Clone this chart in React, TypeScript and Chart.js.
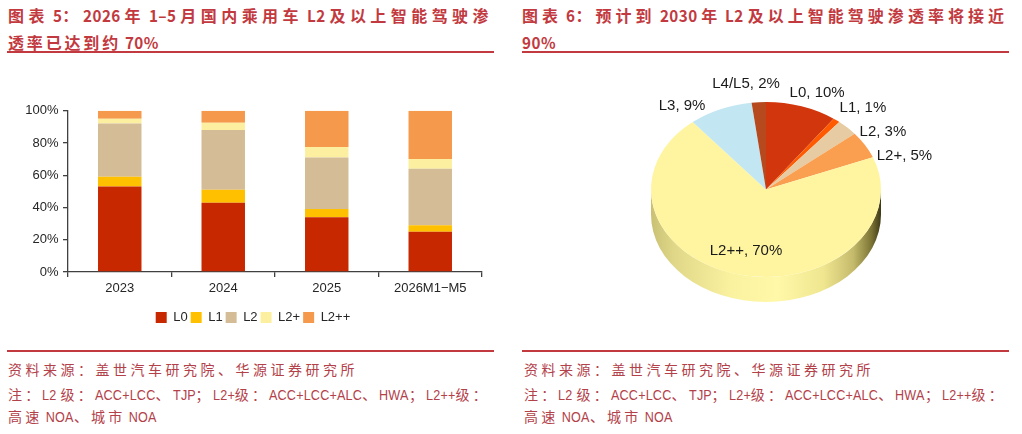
import React, { useEffect, useLayoutEffect, useRef } from 'react';
import { Chart, registerables } from 'chart.js';

Chart.register(...registerables);

// ---------- data ----------
const categories = ['2023', '2024', '2025', '2026M1−M5'];
const seriesNames = ['L0', 'L1', 'L2', 'L2+', 'L2++'];
const L0 = [53, 43, 34, 25];
const L1 = [6, 8, 5, 4];
const L2 = [33, 37, 32, 35];
const L2p = [3, 4.5, 6.5, 6];
const L2pp = [5, 7.5, 22.5, 30];
const yMax = 100;
const yStep = 20;

const pieLabels = ['L0', 'L1', 'L2', 'L2+', 'L2++', 'L3', 'L4/L5'];
const pieValues = [10, 1, 3, 5, 70, 9, 2];

const title1 = ['图表 5：2026 年 1–5 月国内乘用车 L2 及以上智能驾驶渗', '透率已达到约 70%'];
const title2 = ['图表 6：预计到 2030 年 L2 及以上智能驾驶渗透率将接近', '90%'];
const footer = [
  '资料来源：盖世汽车研究院、华源证券研究所',
  '注：L2 级：ACC+LCC、TJP；L2+级：ACC+LCC+ALC、HWA；L2++级：',
  '高速 NOA、城市 NOA',
];

// ---------- styles ----------
const barColors = ['#C82800', '#FFC000', '#D4BC96', '#FCF0A0', '#F5994D'];
const pieColors = ['#D2360C', '#FF5A00', '#E6CBA3', '#FA9E50', '#FFF5A1', '#C3E6F3', '#B64A1E'];
const RED = '#C23A40';
const FOOT = '#B3414A';
const AXIS = '#404040';
const TXT = '#262626';
const SANS = '"Liberation Sans", Arial, sans-serif';
const CJK = '"Noto Sans CJK SC", "Noto Sans", sans-serif';

if (typeof document !== 'undefined') {
  document.body.style.margin = '0';
  document.body.style.background = '#fff';
}

function runs(text: string) {
  const parts = text.split(/([\x20-\x7E–]+)/).filter((p) => p.length > 0);
  return parts.map((p, i) =>
    /^[\x20-\x7E–]+$/.test(p) ? (
      <span key={i} data-latin="1" style={{ display: 'inline-block', whiteSpace: 'pre', transformOrigin: '0 50%' }}>
        {p}
      </span>
    ) : (
      <span key={i} data-cjk="1">
        {p}
      </span>
    )
  );
}

function FitLine(props: {
  text: string;
  width: number;
  left: number;
  top: number;
  style: React.CSSProperties;
  latinFont: string;
  latinScale: number;
  latinSpacing: number;
}) {
  const ref = useRef<HTMLDivElement>(null);
  useLayoutEffect(() => {
    const fit = () => {
      const el = ref.current;
      if (!el) return;
      const latin = Array.from(el.querySelectorAll('[data-latin]')) as HTMLElement[];
      const cjk = Array.from(el.querySelectorAll('[data-cjk]')) as HTMLElement[];
      cjk.forEach((s) => (s.style.letterSpacing = '0px'));
      latin.forEach((s) => {
        s.style.fontFamily = props.latinFont;
        s.style.letterSpacing = props.latinSpacing + 'px';
        s.style.transform = 'none';
        s.style.marginRight = '0px';
      });
      latin.forEach((s) => {
        const w = s.getBoundingClientRect().width;
        s.style.transform = `scaleX(${props.latinScale})`;
        s.style.marginRight = -(1 - props.latinScale) * w + 'px';
      });
      const natural = el.getBoundingClientRect().width;
      let n = 0;
      cjk.forEach((s) => (n += Array.from(s.textContent || '').length));
      if (n > 0) {
        const ls = (props.width - natural) / n;
        cjk.forEach((s) => (s.style.letterSpacing = ls + 'px'));
      }
    };
    fit();
    if ((document as any).fonts && (document as any).fonts.ready) {
      (document as any).fonts.ready.then(fit);
    }
  }, [props.text, props.width]);
  return (
    <div
      ref={ref}
      style={{
        position: 'absolute',
        left: props.left,
        top: props.top,
        whiteSpace: 'nowrap',
        display: 'inline-block',
        ...props.style,
      }}
    >
      {runs(props.text)}
    </div>
  );
}

function BarChart() {
  const ref = useRef<HTMLCanvasElement>(null);
  useEffect(() => {
    if (!ref.current) return;
    const series = [L0, L1, L2, L2p, L2pp];
    const chart = new Chart(ref.current, {
      type: 'bar',
      data: {
        labels: categories,
        datasets: series.map((d, i) => ({
          label: seriesNames[i],
          data: d,
          backgroundColor: barColors[i],
          borderWidth: 0,
          barPercentage: 0.42,
          categoryPercentage: 1,
        })),
      },
      options: {
        animation: false,
        responsive: false,
        layout: { padding: { top: 12.7, right: 23, left: 24, bottom: 0 } },
        scales: {
          x: {
            stacked: true,
            offset: true,
            grid: { display: true, drawOnChartArea: false, drawTicks: true, tickLength: 5, color: AXIS, lineWidth: 1.3, offset: true },
            border: { display: true, color: AXIS, width: 1.3 },
            ticks: { color: TXT, font: { family: SANS, size: 13 }, padding: 4, maxRotation: 0 },
            afterFit: (s: any) => {
              s.height = 36;
            },
          },
          y: {
            stacked: true,
            min: 0,
            max: yMax,
            grid: { display: true, drawOnChartArea: false, drawTicks: true, tickLength: 5, color: AXIS, lineWidth: 1.3 },
            border: { display: true, color: AXIS, width: 1.3 },
            ticks: {
              stepSize: yStep,
              color: TXT,
              font: { family: SANS, size: 13 },
              padding: 4.5,
              callback: (v: any) => v + '%',
            },
            afterFit: (s: any) => {
              s.width = 44;
            },
          },
        },
        plugins: {
          legend: {
            position: 'bottom',
            labels: {
              boxWidth: 11,
              boxHeight: 11,
              padding: 3,
              color: TXT,
              font: { family: SANS, size: 13 },
            },
          },
          tooltip: { enabled: false },
        },
      },
    });
    return () => chart.destroy();
  }, []);
  return (
    <canvas
      ref={ref}
      width={505}
      height={236}
      style={{ position: 'absolute', left: 0, top: 98, width: 505, height: 236 }}
    />
  );
}

const pie3d = {
  id: 'pie3d',
  beforeDatasetsDraw(chart: any, _args: any, opts: any) {
    const meta = chart.getDatasetMeta(0);
    const arc = meta.data[0];
    if (!arc) return;
    const { x, y, outerRadius: R } = arc;
    const k = opts.tilt;
    const d = opts.depth;
    const ctx = chart.ctx as CanvasRenderingContext2D;
    ctx.save();
    const g = ctx.createLinearGradient(x - R, 0, x + R, 0);
    g.addColorStop(0, '#c9c074');
    g.addColorStop(0.1, '#e0d888');
    g.addColorStop(0.35, '#faf29f');
    g.addColorStop(0.55, '#fff8a8');
    g.addColorStop(0.75, '#f0e690');
    g.addColorStop(0.88, '#c4ba6b');
    g.addColorStop(0.96, '#7a7233');
    g.addColorStop(1, '#3d3818');
    ctx.beginPath();
    ctx.moveTo(x + R, y);
    ctx.lineTo(x + R, y + d);
    ctx.ellipse(x, y + d, R, R * k, 0, 0, Math.PI, false);
    ctx.lineTo(x - R, y);
    ctx.ellipse(x, y, R, R * k, 0, Math.PI, 0, true);
    ctx.closePath();
    ctx.fillStyle = g;
    ctx.fill();
    ctx.restore();
    ctx.save();
    ctx.translate(x, y);
    ctx.scale(1, k);
    ctx.translate(-x, -y);
  },
  afterDatasetsDraw(chart: any) {
    chart.ctx.restore();
  },
  afterDraw(chart: any, _args: any, opts: any) {
    const meta = chart.getDatasetMeta(0);
    const ctx = chart.ctx as CanvasRenderingContext2D;
    const k = opts.tilt;
    const nudges: number[][] = opts.nudges;
    ctx.save();
    ctx.font = '15px ' + SANS;
    ctx.fillStyle = '#1a1a1a';
    ctx.textAlign = 'center';
    ctx.textBaseline = 'middle';
    const labels = chart.data.labels;
    const values = chart.data.datasets[0].data;
    meta.data.forEach((el: any, i: number) => {
      const { x, y, startAngle, endAngle, outerRadius: R } = el;
      const mid = (startAngle + endAngle) / 2;
      const c = Math.cos(mid);
      const s = Math.sin(mid);
      const text = `${labels[i]}, ${values[i]}%`;
      const w = ctx.measureText(text).width;
      let tx: number;
      let ty: number;
      if (values[i] >= 50) {
        tx = x + 0.7 * R * c;
        ty = y + 0.7 * R * k * s;
      } else {
        tx = x + (R + 10) * c + (w / 2) * c;
        ty = y + R * k * s + 10 * s + 8 * s;
      }
      const n = nudges[i] || [0, 0];
      ctx.fillText(text, tx + n[0], ty + n[1]);
    });
    ctx.restore();
  },
};

function PieChart() {
  const ref = useRef<HTMLCanvasElement>(null);
  useEffect(() => {
    if (!ref.current) return;
    const chart = new Chart(ref.current, {
      type: 'pie',
      data: {
        labels: pieLabels,
        datasets: [
          {
            data: pieValues,
            backgroundColor: pieColors,
            borderWidth: 0,
            hoverOffset: 0,
            offset: 0,
          },
        ],
      },
      options: {
        animation: false,
        responsive: false,
        layout: { padding: { top: 14.5, bottom: 15.5, left: 0, right: 0 } },
        plugins: {
          legend: { display: false },
          tooltip: { enabled: false },
          pie3d: {
            tilt: 0.761,
            depth: 25,
            nudges: [[4, 4], [6, 2], [12, 17], [7, 20], [0, 2], [-25, 13], [-10, 0]],
          },
        } as any,
      },
      plugins: [pie3d as any],
    });
    return () => chart.destroy();
  }, []);
  return (
    <canvas
      ref={ref}
      width={492}
      height={260}
      style={{ position: 'absolute', left: 520, top: 60, width: 492, height: 260 }}
    />
  );
}

export default function App() {
  const titleStyle: React.CSSProperties = {
    fontFamily: CJK,
    fontWeight: 700,
    fontSize: 16,
    lineHeight: '20px',
    color: RED,
  };
  const footStyle: React.CSSProperties = {
    fontFamily: CJK,
    fontWeight: 400,
    fontSize: 14,
    lineHeight: '18px',
    color: FOOT,
  };
  const tl = { latinFont: CJK, latinScale: 0.95, latinSpacing: 0.5 };
  const fl = { latinFont: SANS, latinScale: 0.9, latinSpacing: 0.2 };
  return (
    <div style={{ position: 'relative', width: 1022, height: 434, background: '#fff', overflow: 'hidden' }}>
      <FitLine text={title1[0]} width={485} left={8} top={5} style={titleStyle} {...tl} />
      <FitLine text={title1[1]} width={151} left={8} top={31.5} style={titleStyle} {...tl} />
      <FitLine text={title2[0]} width={486} left={522} top={5} style={titleStyle} {...tl} />
      <FitLine text={title2[1]} width={29} left={522} top={31.5} style={titleStyle} {...tl} />
      <div style={{ position: 'absolute', left: 7, top: 51, width: 487, height: 2, background: RED }} />
      <div style={{ position: 'absolute', left: 522, top: 51, width: 487, height: 2, background: RED }} />

      <BarChart />
      <PieChart />

      <div style={{ position: 'absolute', left: 7, top: 350, width: 487, height: 2, background: RED }} />
      <div style={{ position: 'absolute', left: 522, top: 350, width: 487, height: 2, background: RED }} />
      {[0, 1].map((p) => (
        <React.Fragment key={p}>
          <FitLine text={footer[0]} width={350} left={8 + p * 516} top={360} style={footStyle} {...fl} />
          <FitLine text={footer[1]} width={482} left={8 + p * 516} top={385} style={footStyle} {...fl} />
          <FitLine text={footer[2]} width={149} left={8 + p * 516} top={407} style={footStyle} {...fl} />
        </React.Fragment>
      ))}
    </div>
  );
}
